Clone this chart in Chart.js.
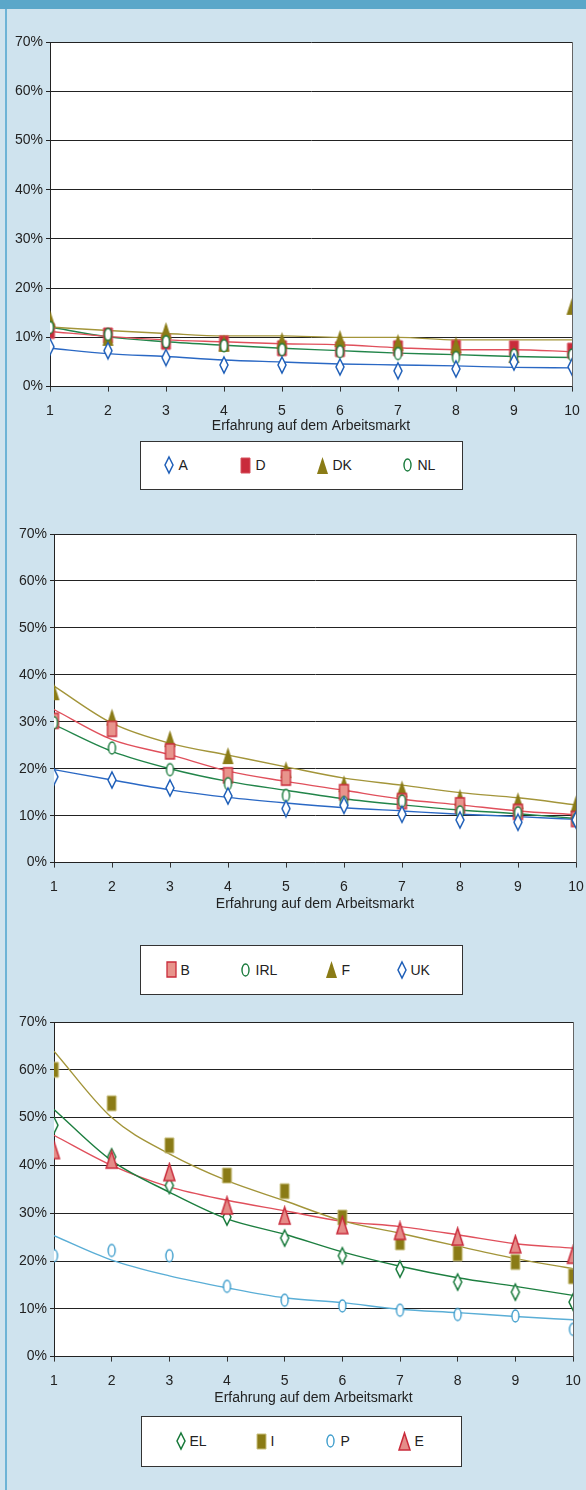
<!DOCTYPE html>
<html><head><meta charset="utf-8">
<script src="https://cdn.jsdelivr.net/npm/chart.js@4.4.1/dist/chart.umd.min.js"></script>
<style>
body{margin:0;background:#cfe3ee;width:586px;height:1490px;position:relative;overflow:hidden;font-family:"Liberation Sans",Arial,sans-serif}
#band{position:absolute;left:0;top:0;width:586px;height:9px;background:#5ba7c9}
#edge{position:absolute;left:5px;top:9px;width:2px;height:1481px;background:#6db3d6}
canvas.c{position:absolute;left:0}
.leg{position:absolute;background:#fff;border:1.5px solid #333;box-sizing:border-box}
.leg span{position:absolute;font-size:14px;color:#222;line-height:16px}
.leg canvas{position:absolute}
</style></head><body>
<div id="band"></div><div id="edge"></div>
<script>
// x = Jahre Erfahrung auf dem Arbeitsmarkt, Werte in %
const years = [1,2,3,4,5,6,7,8,9,10];
const yTicks = [0,10,20,30,40,50,60,70];

// Panel 1
const valA  = [8.1,7.3,5.9,4.4,4.4,4.0,3.2,3.6,5.0,4.0];
const trA   = [7.8,6.7,6.1,5.4,5.0,4.6,4.4,4.2,3.9,3.8];
const valD  = [11.3,10.4,9.1,8.8,7.8,7.6,7.8,7.9,7.8,7.3];
const trD   = [11.2,10.2,9.5,9.1,8.7,8.5,7.9,7.5,7.5,7.1];
const valDK = [13.8,10.0,11.4,8.8,9.4,9.8,9.0,8.5,6.5,16.3];
const trDK  = [12.1,11.4,10.8,10.3,10.3,10.0,10.0,9.5,9.5,9.5];
const valNL = [12.0,10.6,9.1,8.3,7.5,7.1,6.7,5.9,6.4,6.4];
const trNL  = [12.1,10.1,9.1,8.4,7.8,7.3,6.8,6.5,6.1,5.9];

// Panel 2
const valB   = [30.2,28.5,23.7,18.6,18.1,15.0,13.1,12.2,10.8,9.3];
const trB    = [32.6,26.2,23.0,19.5,17.3,15.4,13.5,12.3,11.0,10.2];
const valIRL = [29.8,24.4,19.8,16.8,14.3,12.8,13.1,10.8,10.6,9.2];
const trIRL  = [29.4,23.7,20.0,17.3,15.4,13.6,12.3,11.2,10.4,9.4];
const valF   = [36.4,31.0,26.4,22.8,19.8,16.8,15.7,13.9,13.2,12.5];
const trF    = [37.6,29.7,25.4,22.9,20.4,18.0,16.5,14.9,13.8,12.3];
const valUK  = [18.3,17.6,15.9,14.2,11.5,12.2,10.3,9.1,8.6,9.1];
const trUK   = [19.8,17.6,15.5,13.9,12.7,11.7,11.0,10.3,9.8,9.2];

// Panel 3
const valEL = [48.4,41.8,35.8,29.2,24.8,21.1,18.3,15.6,13.5,11.4];
const trEL  = [51.7,41.0,34.4,28.8,25.6,21.9,18.9,16.5,14.7,12.8];
const valI  = [60.0,53.0,44.2,37.9,34.6,29.1,23.9,21.6,19.8,16.8];
const trI   = [63.9,50.0,42.4,36.8,32.6,28.4,25.8,23.1,20.5,18.4];
const valP  = [21.1,22.2,21.1,14.7,11.8,10.6,9.7,8.8,8.5,5.7];
const trP   = [25.3,20.2,16.9,14.4,12.3,11.3,9.9,9.2,8.4,7.7];
const valE  = [43.2,41.2,38.6,31.6,29.5,27.5,26.3,25.1,23.5,21.3];
const trE   = [46.3,40.0,35.5,32.7,30.5,28.3,27.2,25.5,23.6,22.7];

function marker(shape,w,h,fill,stroke,lw){
  const pad=2, c=document.createElement('canvas');
  c.width=w+pad*2; c.height=h+pad*2;
  const g=c.getContext('2d'), x0=pad, y0=pad, cx=pad+w/2, cy=pad+h/2;
  g.beginPath();
  if(shape==='diamond'){g.moveTo(cx,y0);g.lineTo(x0+w,cy);g.lineTo(cx,y0+h);g.lineTo(x0,cy);g.closePath();}
  else if(shape==='rect'){g.rect(x0,y0,w,h);}
  else if(shape==='tri'){g.moveTo(cx,y0);g.lineTo(x0+w,y0+h);g.lineTo(x0,y0+h);g.closePath();}
  else {g.ellipse(cx,cy,w/2,h/2,0,0,Math.PI*2);}
  if(fill){g.fillStyle=fill;g.fill();}
  if(stroke){g.lineWidth=lw;g.strokeStyle=stroke;g.stroke();}
  return c;
}

const BLUE='#1f5fb8', RED='#c92b3b', OLIVE='#8a7b16', GREEN='#17793a', LBLUE='#3e9dcc';
const mk = {
  blueDia:  ()=>marker('diamond',8,16,'#fff',BLUE,1.5),
  greenDia: ()=>marker('diamond',8,16,'#fff',GREEN,1.5),
  redRect:  ()=>marker('rect',9,15,RED,'#d6505c',1),
  pinkRect: ()=>marker('rect',9,15,'#e8948c',RED,1.3),
  oliveRect:()=>marker('rect',9,15,OLIVE,'#c9c07e',1),
  oliveTri: ()=>marker('tri',11,17,OLIVE,null,0),
  redTri:   ()=>marker('tri',11,17,'#e58c88',RED,1.5),
  greenOval:()=>marker('oval',7,12,'#fff',GREEN,1.4),
  blueOval: ()=>marker('oval',7,12,'#fff',LBLUE,1.4)
};

const panels = [
  {top:42,bottom:387,left:50,right:572,titleY:427,
   leg:{x:140,y:441,w:323,h:49,items:[[169,179],[246,256],[323,333],[408,418]]},
   series:[
    {label:'A',v:valA,t:trA,m:mk.blueDia(),lc:'#2a68c4',z:1},
    {label:'D',v:valD,t:trD,m:mk.redRect(),lc:'#e0505c',z:4},
    {label:'DK',v:valDK,t:trDK,m:mk.oliveTri(),lc:'#a3953a',z:3},
    {label:'NL',v:valNL,t:trNL,m:mk.greenOval(),lc:'#22854a',z:2}]},
  {top:534,bottom:863,left:54,right:576,titleY:905,
   leg:{x:140,y:945,w:323,h:50,items:[[172,181],[246,256],[332,342],[402,411]]},
   series:[
    {label:'B',v:valB,t:trB,m:mk.pinkRect(),lc:'#e0505c',z:3},
    {label:'IRL',v:valIRL,t:trIRL,m:mk.greenOval(),lc:'#22854a',z:2},
    {label:'F',v:valF,t:trF,m:mk.oliveTri(),lc:'#a3953a',z:4},
    {label:'UK',v:valUK,t:trUK,m:mk.blueDia(),lc:'#2a68c4',z:1}]},
  {top:1022,bottom:1357,left:54,right:573,titleY:1399,
   leg:{x:141,y:1416,w:321,h:51,items:[[181,190],[262,271],[331,341],[405,415]]},
   series:[
    {label:'EL',v:valEL,t:trEL,m:mk.greenDia(),lc:'#1d7f40',z:2},
    {label:'I',v:valI,t:trI,m:mk.oliveRect(),lc:'#a3953a',z:4},
    {label:'P',v:valP,t:trP,m:mk.blueOval(),lc:'#5aaed6',z:3},
    {label:'E',v:valE,t:trE,m:mk.redTri(),lc:'#e0505c',z:1}]}
];

const plotBg = {
  id:'plotBg',
  beforeDraw(ch){const a=ch.chartArea,g=ch.ctx;g.save();g.fillStyle='#fff';g.fillRect(a.left,a.top,a.right-a.left,a.bottom-a.top);g.restore();},
  afterDatasetsDraw(ch){const a=ch.chartArea,g=ch.ctx;g.save();g.strokeStyle='#666';g.lineWidth=1;g.beginPath();g.moveTo(a.right+0.5,a.top);g.lineTo(a.right+0.5,a.bottom);g.stroke();g.restore();}
};

const font = {family:'"Liberation Sans", Arial, sans-serif', size:14};
Chart.defaults.color = '#222';

panels.forEach(p=>{
  const padTop = 20, hx = p.titleY - p.bottom + 8.4;
  const cv = document.createElement('canvas');
  cv.className='c';
  const H = Math.round(padTop + (p.bottom - p.top) + hx);
  cv.width=586; cv.height=H;
  cv.style.top=(p.top-padTop)+'px'; cv.style.width='586px'; cv.style.height=H+'px';
  document.body.appendChild(cv);

  const ds=[];
  p.series.forEach(s=>{
    ds.push({label:s.label,data:years.map((x,i)=>({x,y:s.v[i]})),pointStyle:s.m,pointRadius:6,showLine:false,order:s.z});
  });
  p.series.forEach(s=>{
    ds.push({label:s.label+' Trend',data:years.map((x,i)=>({x,y:s.t[i]})),showLine:true,pointRadius:0,
      borderColor:s.lc,borderWidth:1.4,cubicInterpolationMode:'monotone',fill:false,order:10});
  });

  new Chart(cv,{
    type:'scatter',
    data:{datasets:ds},
    plugins:[plotBg],
    options:{
      responsive:false, animation:false, events:[],
      layout:{padding:{top:padTop,left:0,right:586-p.right,bottom:0}},
      plugins:{legend:{display:false},tooltip:{enabled:false}},
      scales:{
        x:{type:'linear',min:1,max:10,
          ticks:{stepSize:1,font,padding:11,maxRotation:0},
          grid:{drawOnChartArea:false,drawTicks:true,tickLength:5,color:'#333'},
          border:{color:'#222',width:1},
          title:{display:true,text:'Erfahrung auf dem Arbeitsmarkt',font,padding:{top:0,bottom:0}},
          afterFit(s){s.height=hx;s.paddingLeft=0;s.paddingRight=8;}},
        y:{min:0,max:70,afterBuildTicks(s){s.ticks=yTicks.map(v=>({value:v}));},
          ticks:{font,padding:3,callback:v=>v+'%'},
          grid:{color:'#222',tickLength:4,lineWidth:1},
          border:{color:'#222',width:1},
          afterFit(s){s.width=p.left;}}
      }
    }
  });

  // Legende
  const L=document.createElement('div');
  L.className='leg';
  L.style.left=p.leg.x+'px';L.style.top=p.leg.y+'px';L.style.width=p.leg.w+'px';L.style.height=p.leg.h+'px';
  const cy=p.leg.h/2-1.5;
  p.series.forEach((s,i)=>{
    const [mx,tx]=p.leg.items[i];
    const c=s.m, cc=document.createElement('canvas');
    cc.width=c.width;cc.height=c.height;cc.getContext('2d').drawImage(c,0,0);
    cc.style.left=(mx-p.leg.x-1.5-c.width/2)+'px';cc.style.top=(cy-c.height/2)+'px';
    L.appendChild(cc);
    const sp=document.createElement('span');
    sp.textContent=s.label;
    sp.style.left=(tx-p.leg.x-1.5)+'px';sp.style.top=(cy-8)+'px';
    L.appendChild(sp);
  });
  document.body.appendChild(L);
});
</script>
</body></html>
